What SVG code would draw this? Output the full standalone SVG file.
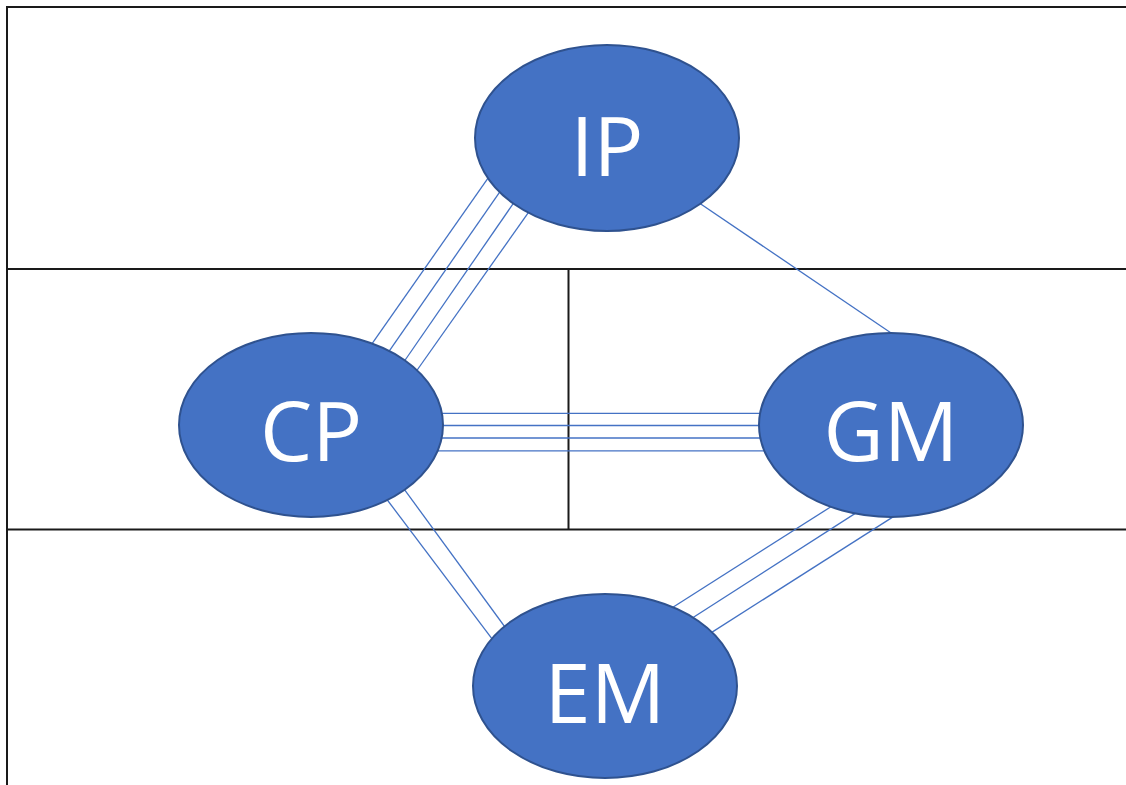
<svg xmlns="http://www.w3.org/2000/svg" width="1126" height="785" viewBox="0 0 1126 785">
  <style>
    .frame { stroke: #1a1a1a; stroke-width: 2; fill: none; }
    .link { stroke: #4472C4; stroke-width: 1.3; fill: none; }
    .node ellipse { fill: #4472C4; stroke: #2F528F; stroke-width: 2; }
    .node text { fill: #ffffff; font-family: "Open Sans", "Liberation Sans", sans-serif; font-size: 83px; text-anchor: middle; }
  </style>
  <rect x="0" y="0" width="1126" height="785" fill="#ffffff"/>

  <!-- zone grid -->
  <g id="frame">
    <line class="frame" x1="7" y1="7" x2="1126" y2="7"/>
    <line class="frame" x1="7" y1="6" x2="7" y2="785"/>
    <line class="frame" x1="7" y1="269" x2="1126" y2="269"/>
    <line class="frame" x1="7" y1="529.5" x2="1126" y2="529.5"/>
    <line class="frame" x1="568.5" y1="269" x2="568.5" y2="529.5"/>
  </g>

  <!-- connectors -->
  <g id="connectors">
    <!-- IP - CP -->
    <line class="link" x1="492.4" y1="171.8" x2="367" y2="350.9"/>
    <line class="link" x1="504" y1="185.8" x2="384.3" y2="358.2"/>
    <line class="link" x1="518.4" y1="196.1" x2="400" y2="367.5"/>
    <line class="link" x1="532.4" y1="206.8" x2="412.6" y2="376.5"/>
    <!-- IP - GM -->
    <line class="link" x1="694.1" y1="199.5" x2="895.9" y2="336.2"/>
    <!-- CP - GM -->
    <line class="link" x1="430" y1="413.3" x2="775" y2="413.3"/>
    <line class="link" x1="430" y1="425.5" x2="775" y2="425.5"/>
    <line class="link" x1="430" y1="438" x2="775" y2="438"/>
    <line class="link" x1="430" y1="450.8" x2="775" y2="450.8"/>
    <!-- CP - EM -->
    <line class="link" x1="381.3" y1="492" x2="497.7" y2="646.3"/>
    <line class="link" x1="400.1" y1="483.6" x2="509.9" y2="633.8"/>
    <!-- GM - EM -->
    <line class="link" x1="838.4" y1="502" x2="664.3" y2="612.7"/>
    <line class="link" x1="862.7" y1="508.6" x2="684.9" y2="622.7"/>
    <line class="link" x1="897" y1="514.4" x2="704.3" y2="637.1"/>
  </g>

  <g id="IP" class="node">
    <ellipse cx="607" cy="138" rx="132" ry="93"/>
    <text x="607" y="176">IP</text>
  </g>
  <g id="CP" class="node">
    <ellipse cx="311" cy="425" rx="132" ry="92"/>
    <text x="311" y="461">CP</text>
  </g>
  <g id="GM" class="node">
    <ellipse cx="891" cy="425" rx="132" ry="92"/>
    <text x="891" y="461">GM</text>
  </g>
  <g id="EM" class="node">
    <ellipse cx="605" cy="686" rx="132" ry="92"/>
    <text x="605" y="723">EM</text>
  </g>
</svg>
